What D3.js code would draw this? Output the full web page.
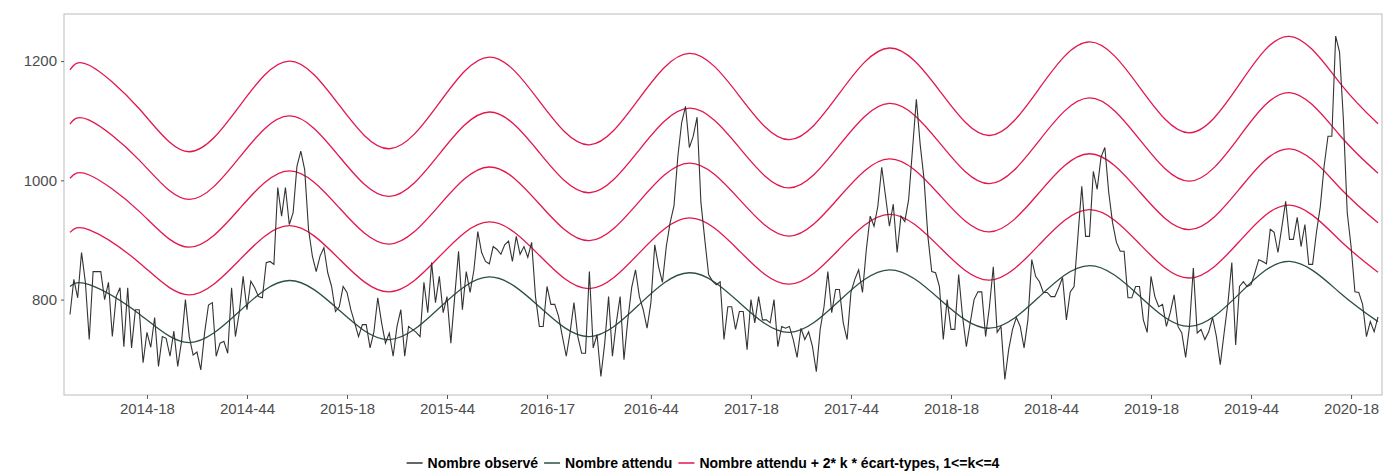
<!DOCTYPE html>
<html lang="fr">
<head>
<meta charset="UTF-8">
<title>Nombre observé / attendu</title>
<style>
    body { margin: 0; background: #fff; }
    .axis text { font: 15px "Liberation Sans", Arial, sans-serif; fill: #4d4d4d; }
    .axis path { display: none; }
    .axis line { stroke: #555; }
    .legend text { font: bold 14px "Liberation Sans Narrow", "Liberation Sans", sans-serif; fill: #000; }
</style>
</head>
<body>
<svg width="1388" height="473"></svg>
<script src="https://d3js.org/d3.v7.min.js"></script>
<script>
// weekly series starts at ISO week 2013-50
var startYear = 2013, startWeek = 50;
var weeksInYear = {2013: 52, 2014: 52, 2015: 53, 2016: 52, 2017: 52, 2018: 52, 2019: 52, 2020: 53};

var tickLabels = ["2014-18","2014-44","2015-18","2015-44","2016-17","2016-44","2017-18",
                  "2017-44","2018-18","2018-44","2019-18","2019-44","2020-18"];

var observed = [
 775,834,803,879,829,733,847,847,847,800,829,738,805,820,721,820,719,783,783,694,
 745,720,770,688,738,735,705,747,688,730,800,738,707,712,682,745,791,795,705,727,
 730,710,820,738,778,839,783,831,820,805,803,
 862,864,859,988,940,988,926,946,1024,1049,1018,918,873,847,873,887,845,822,780,788,
 822,812,783,761,738,758,758,719,746,803,761,727,744,705,755,783,705,755,750,745,
 738,829,778,862,795,839,778,805,727,805,881,783,847,812,850,914,879,864,860,889,
 884,876,892,898,864,906,876,889,871,896,805,755,755,822,792,792,772,738,705,745,
 795,738,710,710,847,719,741,671,727,805,705,761,805,699,766,820,850,805,783,752,
 795,892,855,829,889,929,957,1040,1097,1124,1055,1074,1106,963,901,842,831,825,
 830,733,788,788,750,780,780,716,800,761,805,766,766,761,800,721,755,752,755,733,
 703,752,733,746,721,679,750,788,847,778,817,817,761,733,812,834,850,812,884,940,
 923,957,1022,973,923,960,879,940,931,968,1052,1136,1060,1002,906,847,845,
 822,733,800,750,750,842,772,721,761,800,813,813,738,788,855,745,755,666,716,750,
 770,755,719,766,867,839,830,812,812,805,805,820,837,766,813,822,906,990,906,906,
 1015,985,1039,1055,980,929,896,881,881,803,803,822,822,766,745,839,805,
 788,792,755,778,808,755,744,703,755,853,744,750,733,746,770,738,691,744,795,862,
 724,822,830,822,825,845,867,864,860,918,913,879,921,965,901,901,938,889,926,859,
 859,913,956,1024,1074,1074,1242,1215,1103,946,889,813,812,792,738,763,746,771
];

// expected count and standard deviation, read at these week indices
var modelIdx = [0,5,18,31,44,57,70,83,96,109,122,135,148,161,174,187,200,213,226,239,252,265,278,291,304,317,330,340];
var expected = [822,825,776,728,780,832,782,733,786,838,788,738,792,845,795,745,798,850,801,752,805,857,806,755,810,864,812,763];
var sd = [45.4,46,43,40,43,46,43,40,43,46.1,43.1,40.2,43.2,46,43.3,40.4,43.5,46.5,43.7,40.4,43.7,46.9,43.8,40.6,43.9,47.2,44,41.5];

// week labels for the x domain
var weeks = [];
var y0 = startYear, w0 = startWeek;
for (var i = 0; i < observed.length; i++) {
    weeks.push(y0 + "-" + String(w0).padStart(2, "0"));
    w0++;
    if (w0 > weeksInYear[y0]) { w0 = 1; y0++; }
}

var svg = d3.select("svg"),
    plot = {left: 64, right: 1382, top: 14, bottom: 395};

var x = d3.scalePoint().domain(weeks).range([70, 1378]);
var y = d3.scaleLinear().domain([640, 1279]).range([plot.bottom, plot.top]);

svg.append("rect")
    .attr("x", plot.left).attr("y", plot.top)
    .attr("width", plot.right - plot.left).attr("height", plot.bottom - plot.top)
    .attr("fill", "none").attr("stroke", "#bbb");

svg.append("g").attr("class", "axis")
    .attr("transform", "translate(0," + plot.bottom + ")")
    .call(d3.axisBottom(x).tickValues(tickLabels).tickSize(4).tickPadding(4));

svg.append("g").attr("class", "axis")
    .attr("transform", "translate(" + plot.left + ",0)")
    .call(d3.axisLeft(y).tickValues([800, 1000, 1200]).tickFormat(d3.format("d")).tickSize(3).tickPadding(4));

var bandColor = "#e3174c";

var model = modelIdx.map(function (d, i) { return {w: weeks[d], e: expected[i], s: sd[i]}; });

[1, 2, 3, 4].forEach(function (k) {
    svg.append("path")
        .datum(model)
        .attr("fill", "none")
        .attr("stroke", bandColor)
        .attr("stroke-width", 1.3)
        .attr("d", d3.line().curve(d3.curveNatural)
            .x(function (d) { return x(d.w); })
            .y(function (d) { return y(d.e + 2 * k * d.s); }));
});

svg.append("path")
    .datum(model)
    .attr("fill", "none")
    .attr("stroke", "#2d4f45")
    .attr("stroke-width", 1.3)
    .attr("d", d3.line().curve(d3.curveNatural)
        .x(function (d) { return x(d.w); })
        .y(function (d) { return y(d.e); }));

svg.append("path")
    .datum(observed)
    .attr("fill", "none")
    .attr("stroke", "#333")
    .attr("stroke-width", 1.1)
    .attr("d", d3.line()
        .x(function (d, i) { return x(weeks[i]); })
        .y(function (d) { return y(d); }));

// legend
var legendItems = [
    {label: "Nombre observé", color: "#333"},
    {label: "Nombre attendu", color: "#2d4f45"},
    {label: "Nombre attendu + 2* k * écart-types, 1<=k<=4", color: bandColor}
];
var lg = svg.append("g").attr("class", "legend");
var cx = 0;
legendItems.forEach(function (d) {
    var g = lg.append("g").attr("transform", "translate(" + cx + ",0)");
    g.append("line").attr("x1", 0).attr("x2", 16).attr("y1", -5).attr("y2", -5)
        .attr("stroke", d.color).attr("stroke-width", 1.5);
    var t = g.append("text").attr("x", 21).attr("y", 0).text(d.label);
    cx += 21 + t.node().getComputedTextLength() + 6;
});
lg.attr("transform", "translate(" + (706 - cx / 2) + ",468)");
</script>
</body>
</html>
